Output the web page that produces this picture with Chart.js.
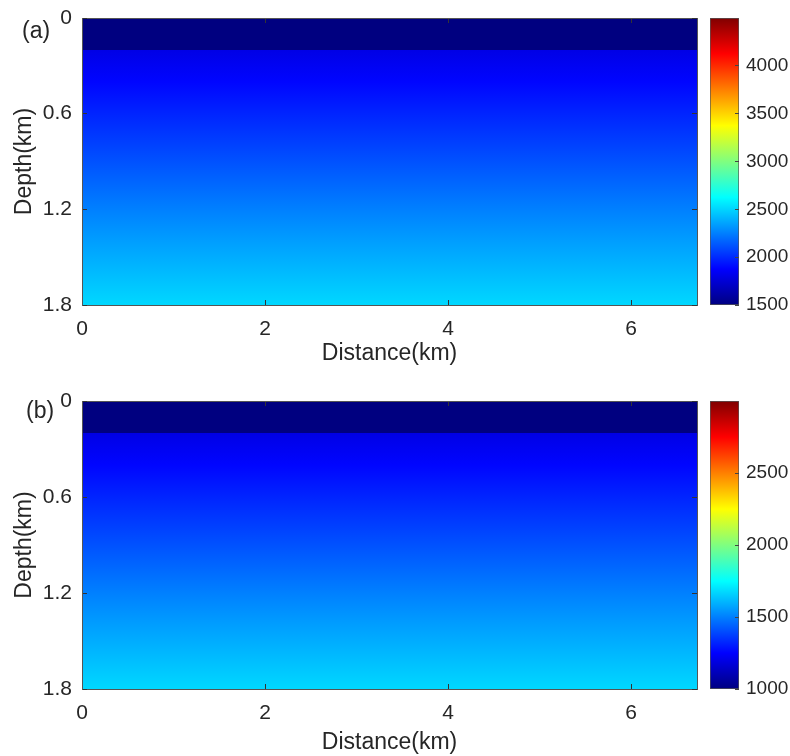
<!DOCTYPE html>
<html><head><meta charset="utf-8">
<script src="https://cdn.jsdelivr.net/npm/chart.js@4.4.1/dist/chart.umd.min.js"></script>
<style>
html,body{margin:0;padding:0;background:#fff;}
body{width:790px;height:756px;position:relative;overflow:hidden;font-family:'Liberation Sans',Arial,sans-serif;}
canvas{position:absolute;}
.lbl{position:absolute;font-size:23px;line-height:26px;color:#262626;font-family:'Liberation Sans',Arial,sans-serif;}
</style></head><body>
<canvas id="mA" width="700" height="378" style="left:0;top:0"></canvas>
<canvas id="cA" width="90" height="378" style="left:700px;top:0"></canvas>
<canvas id="mB" width="700" height="373" style="left:0;top:383px"></canvas>
<canvas id="cB" width="90" height="373" style="left:700px;top:383px"></canvas>
<div class="lbl" style="left:22px;top:17px">(a)</div>
<div class="lbl" style="left:26px;top:397px">(b)</div>
<script>
// ---- data ----
const distanceRange = [0, 6.72];          // km
const depthRange = [0, 1.8];              // km
const distanceTicks = [0, 2, 4, 6];
const depthTicks = [0, 0.6, 1.2, 1.8];
const waterDepth = [0, 0.2];              // top layer (km)
const depthSamples = [0.2, 0.4, 0.6, 0.8, 1.0, 1.2, 1.4, 1.6, 1.8];
// panel (a)
const waterVelA = 1500;
const velocityA = [1800, 1890, 1980, 2070, 2160, 2250, 2340, 2425, 2510];
const colorRangeA = [1500, 4500];
const colorTicksA = [1500, 2000, 2500, 3000, 3500, 4000];
// panel (b)
const waterVelB = 1000;
const velocityB = [1200, 1260, 1320, 1380, 1440, 1500, 1560, 1617, 1673];
const colorRangeB = [1000, 3000];
const colorTicksB = [1000, 1500, 2000, 2500];

const FONT = "'Liberation Sans', Arial, sans-serif";
const TXT = '#262626';
const FRAME = '#555555';

function jet(t) {
  t = Math.max(0, Math.min(1, t));
  const c = x => Math.round(255 * Math.max(0, Math.min(1, x)));
  return `rgb(${c(1.5 - Math.abs(4 * t - 3))},${c(1.5 - Math.abs(4 * t - 2))},${c(1.5 - Math.abs(4 * t - 1))})`;
}
const setTicks = arr => s => { s.ticks = arr.map(v => ({ value: v })); };
const fmt = v => String(Number(v.toFixed(2)));
const noPad = s => { s.paddingTop = 0; s.paddingBottom = 0; s.paddingLeft = 0; s.paddingRight = 0; };

function makeModel(id, H, plotTop, plotBottom, waterVel, vels, cRange, titlePad) {
  const norm = v => (v - cRange[0]) / (cRange[1] - cRange[0]);
  const line = d => [{ x: distanceRange[0], y: d }, { x: distanceRange[1], y: d }];
  const common = { borderWidth: 0, pointRadius: 0, pointHoverRadius: 0 };
  const gridIn = { drawOnChartArea: false, tickLength: -5, color: '#333', lineWidth: 1, z: 1 };
  const border = { color: FRAME, width: 1, z: 1 };
  new Chart(document.getElementById(id), {
    type: 'line',
    data: {
      datasets: [
        { ...common, data: line(waterDepth[0]), fill: false },
        { ...common, data: line(waterDepth[1]), fill: '-1', backgroundColor: jet(norm(waterVel)) },
        { ...common, data: line(depthSamples[depthSamples.length - 1]), fill: '-1',
          backgroundColor: ctx => {
            const ch = ctx.chart, y = ch.scales && ch.scales.y;
            if (!ch.chartArea || !y) return 'rgba(0,0,0,0)';
            const p0 = y.getPixelForValue(depthSamples[0]);
            const p1 = y.getPixelForValue(depthSamples[depthSamples.length - 1]);
            const g = ch.ctx.createLinearGradient(0, p0, 0, p1);
            depthSamples.forEach((d, i) => g.addColorStop((y.getPixelForValue(d) - p0) / (p1 - p0), jet(norm(vels[i]))));
            return g;
          } }
      ]
    },
    options: {
      responsive: false, animation: false, events: [],
      layout: { padding: { top: plotTop, right: 3, left: 0, bottom: 0 } },
      plugins: { legend: { display: false }, tooltip: { enabled: false } },
      scales: {
        x: { type: 'linear', position: 'bottom', min: distanceRange[0], max: distanceRange[1],
          afterBuildTicks: setTicks(distanceTicks),
          ticks: { font: { family: FONT, size: 21 }, color: TXT, padding: 17, maxRotation: 0, autoSkip: false, callback: fmt },
          grid: gridIn, border,
          title: { display: true, text: 'Distance(km)', font: { family: FONT, size: 23 }, color: TXT, padding: { top: 0, bottom: titlePad } },
          afterFit: s => { noPad(s); s.height = H - plotBottom; } },
        x2: { type: 'linear', position: 'top', min: distanceRange[0], max: distanceRange[1],
          afterBuildTicks: setTicks(distanceTicks), ticks: { display: false },
          grid: gridIn, border, afterFit: s => { noPad(s); s.height = 0; } },
        y: { type: 'linear', position: 'left', reverse: true, min: depthRange[0], max: depthRange[1],
          afterBuildTicks: setTicks(depthTicks),
          ticks: { font: { family: FONT, size: 21 }, color: TXT, padding: 15, autoSkip: false, callback: fmt },
          grid: gridIn, border,
          title: { display: true, text: 'Depth(km)', font: { family: FONT, size: 23 }, color: TXT, padding: { top: 11, bottom: 0 } },
          afterFit: s => { noPad(s); s.width = 82; } },
        y2: { type: 'linear', position: 'right', reverse: true, min: depthRange[0], max: depthRange[1],
          afterBuildTicks: setTicks(depthTicks), ticks: { display: false },
          grid: gridIn, border, afterFit: s => { noPad(s); s.width = 0; } }
      }
    }
  });
}

function makeColorbar(id, H, plotTop, plotBottom, cRange, cTicks) {
  new Chart(document.getElementById(id), {
    type: 'bar',
    data: {
      labels: [''],
      datasets: [{
        data: [[cRange[0], cRange[1]]],
        barPercentage: 1, categoryPercentage: 1,
        borderWidth: 1, borderColor: FRAME, borderSkipped: false,
        backgroundColor: ctx => {
          const ch = ctx.chart, y = ch.scales && ch.scales.y;
          if (!ch.chartArea || !y) return 'rgba(0,0,0,0)';
          const p0 = y.getPixelForValue(cRange[0]), p1 = y.getPixelForValue(cRange[1]);
          const g = ch.ctx.createLinearGradient(0, p0, 0, p1);
          [0, 0.125, 0.375, 0.625, 0.875, 1].forEach(t => g.addColorStop(t, jet(t)));
          return g;
        }
      }]
    },
    options: {
      responsive: false, animation: false, events: [],
      layout: { padding: { top: plotTop, left: 10, right: 0, bottom: H - plotBottom } },
      plugins: { legend: { display: false }, tooltip: { enabled: false } },
      scales: {
        x: { display: false },
        y: { position: 'right', min: cRange[0], max: cRange[1],
          afterBuildTicks: setTicks(cTicks),
          ticks: { font: { family: FONT, size: 19 }, color: TXT, padding: 11, autoSkip: false, callback: v => String(v) },
          grid: { drawOnChartArea: false, tickLength: -4, color: '#444', z: 1 },
          border: { display: false },
          afterFit: s => { noPad(s); s.width = 51; } }
      }
    }
  });
}

makeModel('mA', 378, 18, 305, waterVelA, velocityA, colorRangeA, 11);
makeColorbar('cA', 378, 18, 305, colorRangeA, colorTicksA);
makeModel('mB', 373, 18, 306, waterVelB, velocityB, colorRangeB, 0);
makeColorbar('cB', 373, 18, 306, colorRangeB, colorTicksB);
</script>
</body></html>
